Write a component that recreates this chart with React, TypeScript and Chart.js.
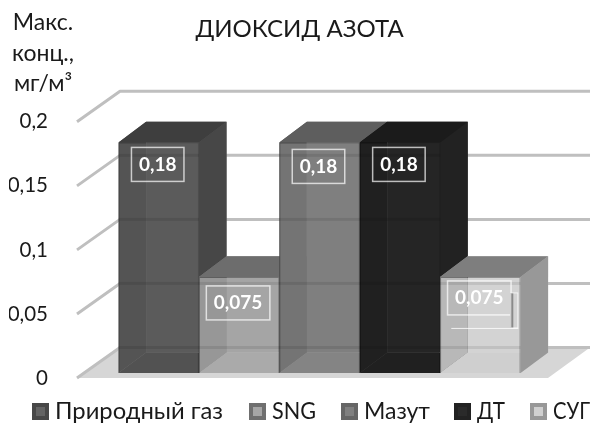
import React, { useEffect, useRef } from "react";
import { Chart, registerables } from "chart.js";

Chart.register(...registerables);

const seriesNames = ["Природный газ", "SNG", "Мазут", "ДТ", "СУГ"];
const seriesValues = [0.18, 0.075, 0.18, 0.18, 0.075];
const categories = ["Диоксид азота"];
const tickLabels = ["0", "0,05", "0,1", "0,15", "0,2"];
const unitLines = ["Макс.", "конц.,", "мг/м³"];
const labelNudge = [-1, 3, 1, -1, -2];

const frontColors = [
  "rgba(90,90,90,0.7)",
  "rgba(170,170,170,0.6)",
  "rgba(130,130,130,0.7)",
  "rgba(40,40,40,0.7)",
  "rgba(230,230,230,0.4)",
];
const topColors = ["#3e3e3e", "#6d6d6d", "#5e5e5e", "#1b1b1b", "#7e7e7e"];
const sideColors = ["#474747", "#6f6f6f", "#666666", "#222222", "#989898"];
const backColors = ["#5f5f5f", "#9d9d9d", "#7b7b7b", "#212121", "#c6c6c6"];
const leftColors = ["#484848", "#7c7c7c", "#565656", "#0f0f0f", "#999999"];
const floorColors = ["#404040", "#aaaaaa", "#8a8a8a", "#101010", "#c0c0c0"];
const swatchColors = ["#636363", "#a6a6a6", "#808080", "#2a2a2a", "#d0d0d0"];

// Legend row: where each entry starts and how wide its text may run.
const legendStarts = [32, 249, 341, 454, 530];
const legendTextWidths = [168, 44, 66, 28, 37];

const FONT = "Lato, 'Open Sans', sans-serif";
const WALL_DX = 43;
const WALL_DY = 30.5;
const BAR_DX = 27.6;
const BAR_DY = 20.6;
const INSET_X = 7;
const INSET_Y = 5;
const PLOT_RIGHT_EDGE = 590;

function poly(ctx: CanvasRenderingContext2D, pts: number[][], fill: string) {
  ctx.beginPath();
  pts.forEach(([x, y], i) => (i ? ctx.lineTo(x, y) : ctx.moveTo(x, y)));
  ctx.closePath();
  ctx.fillStyle = fill;
  ctx.fill();
}

// Floor, receding gridlines and the depth faces of every column.
const depthPlugin = {
  id: "depth",
  beforeDatasetsDraw(chart: any) {
    const { ctx, chartArea, scales } = chart;
    const y = scales.y;
    const zero = y.getPixelForValue(0);
    ctx.save();
    poly(
      ctx,
      [
        [chartArea.left, zero],
        [chartArea.left + WALL_DX, zero - WALL_DY],
        [PLOT_RIGHT_EDGE, zero - WALL_DY],
        [chartArea.right, zero],
      ],
      "#d6d6d6"
    );
    ctx.strokeStyle = "#bfbfbf";
    ctx.lineWidth = 3;
    ctx.lineJoin = "round";
    y.ticks.forEach((t: any) => {
      const py = y.getPixelForValue(t.value);
      ctx.beginPath();
      ctx.moveTo(chartArea.left, py);
      ctx.lineTo(chartArea.left + WALL_DX, py - WALL_DY);
      ctx.lineTo(PLOT_RIGHT_EDGE, py - WALL_DY);
      ctx.stroke();
    });
    ctx.translate(INSET_X, -INSET_Y);
    chart.data.datasets.forEach((_: any, i: number) => {
      const bar = chart.getDatasetMeta(i).data[0];
      const l = bar.x - bar.width / 2;
      const r = bar.x + bar.width / 2;
      const t = bar.y;
      const b = bar.base;
      poly(ctx, [[l + BAR_DX, t - BAR_DY], [r + BAR_DX, t - BAR_DY], [r + BAR_DX, b - BAR_DY], [l + BAR_DX, b - BAR_DY]], backColors[i]);
      poly(ctx, [[l, t], [l + BAR_DX, t - BAR_DY], [l + BAR_DX, b - BAR_DY], [l, b]], leftColors[i]);
      poly(ctx, [[l, b], [r, b], [r + BAR_DX, b - BAR_DY], [l + BAR_DX, b - BAR_DY]], floorColors[i]);
      poly(ctx, [[r, t], [r + BAR_DX, t - BAR_DY], [r + BAR_DX, b - BAR_DY], [r, b]], sideColors[i]);
      poly(ctx, [[l, t], [r, t], [r + BAR_DX, t - BAR_DY], [l + BAR_DX, t - BAR_DY]], topColors[i]);
    });
    // the front faces are drawn by the bar elements under the same offset
  },
  afterDatasetsDraw(chart: any) {
    const { ctx, scales } = chart;
    const y = scales.y;
    // gridlines showing faintly through the translucent front faces
    ctx.fillStyle = "rgba(0,0,0,0.09)";
    chart.data.datasets.forEach((_: any, i: number) => {
      const bar = chart.getDatasetMeta(i).data[0];
      const l = bar.x - bar.width / 2;
      y.ticks.forEach((t: any) => {
        const py = y.getPixelForValue(t.value) - WALL_DY + INSET_Y;
        if (py > bar.y && py < bar.base) ctx.fillRect(l, py - 1.5, bar.width, 3);
      });
    });
    ctx.restore();
  },
};

// Boxed value labels, unit caption and the legend row.
const annotationPlugin = {
  id: "annotations",
  afterDraw(chart: any) {
    const { ctx } = chart;
    ctx.save();
    ctx.textBaseline = "middle";
    chart.data.datasets.forEach((ds: any, i: number) => {
      const bar = chart.getDatasetMeta(i).data[0];
      const text = String(ds.data[0]).replace(".", ",");
      ctx.font = `bold 19px ${FONT}`;
      const w = ctx.measureText(text).width + 15;
      const h = 34;
      const cx = bar.x + INSET_X - 1;
      const top = bar.y - INSET_Y + 6 + labelNudge[i];
      ctx.lineWidth = 1.5;
      ctx.strokeStyle = "rgba(255,255,255,0.7)";
      ctx.strokeRect(cx - w / 2, top, w, h);
      ctx.fillStyle = "#ffffff";
      ctx.textAlign = "center";
      ctx.fillText(text, cx, top + h / 2);
    });

    // leftover leader marks beside the last label
    const last = chart.getDatasetMeta(4).data[0];
    const base = last.y - INSET_Y;
    ctx.strokeStyle = "rgba(255,255,255,0.8)";
    ctx.lineWidth = 1;
    ctx.beginPath();
    ctx.moveTo(last.x - 22, base + 51.5);
    ctx.lineTo(last.x + 45, base + 51.5);
    ctx.stroke();
    ctx.fillStyle = "#8a8a8a";
    ctx.fillRect(last.x + 37, base + 16, 3, 35);
    ctx.strokeStyle = "rgba(255,255,255,0.7)";
    ctx.strokeRect(last.x + 37.5, base + 16, 7, 35);

    ctx.fillStyle = "#1a1a1a";
    ctx.textAlign = "center";
    ctx.textBaseline = "alphabetic";
    ctx.font = `23px ${FONT}`;
    unitLines.forEach((line, i) => ctx.fillText(line, 43, 30 + Math.round(i * 30.5)));

    ctx.textBaseline = "middle";
    const legendY = 411;
    ctx.textAlign = "left";
    ctx.font = `24px ${FONT}`;
    chart.data.datasets.forEach((ds: any, i: number) => {
      const x = legendStarts[i];
      ctx.fillStyle = sideColors[i];
      ctx.fillRect(x, legendY - 8, 17, 17);
      ctx.fillStyle = swatchColors[i];
      ctx.fillRect(x + 4, legendY - 4, 9, 9);
      ctx.fillStyle = "#1a1a1a";
      ctx.fillText(ds.label, x + 23, legendY, legendTextWidths[i]);
    });
    ctx.restore();
  },
};

export default function App() {
  const ref = useRef<HTMLCanvasElement>(null);
  useEffect(() => {
    const chart = new Chart(ref.current!, {
      type: "bar",
      data: {
        labels: categories,
        datasets: seriesNames.map((label, i) => ({
          label,
          data: [seriesValues[i]],
          backgroundColor: frontColors[i],
          borderColor: "rgba(40,40,40,0.35)",
          borderWidth: 1,
          clip: false as any,
        })),
      },
      options: {
        responsive: false,
        animation: false,
        layout: { padding: { left: 9, right: 0, top: 0, bottom: 47 } },
        datasets: { bar: { categoryPercentage: 0.8535, barPercentage: 1 } },
        plugins: {
          legend: { display: false },
          tooltip: { enabled: false },
          title: {
            display: true,
            text: "ДИОКСИД АЗОТА",
            color: "#1a1a1a",
            font: { family: FONT, size: 24, weight: "normal", lineHeight: 1.2 },
            padding: { top: 15, bottom: 78 },
          },
        },
        scales: {
          x: { display: false },
          y: {
            min: 0,
            max: 0.2,
            grid: { display: false },
            border: { display: false },
            afterFit(scale: any) {
              scale.width = 68;
            },
            ticks: {
              stepSize: 0.05,
              padding: 21,
              color: "#1a1a1a",
              font: { family: FONT, size: 20.5 },
              callback: (_v: any, i: number) => tickLabels[i],
            },
          },
          // empty right-hand gutter that leaves room for the receding wall
          gutter: {
            position: "right",
            display: true,
            grid: { display: false },
            border: { display: false },
            ticks: { display: false },
            afterFit(scale: any) {
              scale.width = 42;
            },
          },
        },
      },
      plugins: [depthPlugin, annotationPlugin],
    } as any);
    return () => chart.destroy();
  }, []);
  return (
    <div style={{ position: "absolute", left: 0, top: 0, width: 590, height: 425, background: "#fff" }}>
      <canvas ref={ref} width={590} height={425} style={{ display: "block" }} />
    </div>
  );
}
